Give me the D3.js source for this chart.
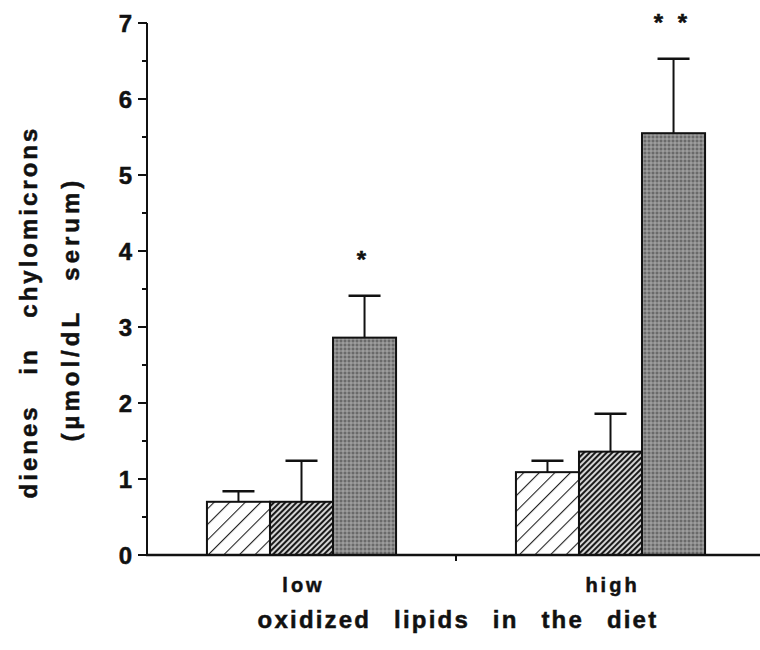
<!DOCTYPE html>
<html>
<head>
<meta charset="utf-8">
<script src="https://cdn.jsdelivr.net/npm/d3@7"></script>
<style>
  html, body { margin: 0; padding: 0; background: #fff; }
  svg { display: block; font-family: "Liberation Sans", Arial, Helvetica, sans-serif; }
  text { fill: #111; stroke: #111; stroke-width: 0.5px; }
</style>
</head>
<body>
<svg id="chart" width="760" height="650"></svg>
<script>
// ---- data ----
const categories = ["low", "high"];
const seriesNames = ["control", "mid", "oxidized"];
const meansControl = [0.70, 1.09];
const semControl   = [0.14, 0.15];
const meansMid     = [0.70, 1.36];
const semMid       = [0.54, 0.50];
const meansOx      = [2.86, 5.55];
const semOx        = [0.55, 0.98];
const significance = ["*", "* *"];
const yTicks = [0, 1, 2, 3, 4, 5, 6, 7];
const yMinorTicks = [0.5, 1.5, 2.5, 3.5, 4.5, 5.5, 6.5];
const xTitle = "oxidized lipids in the diet";
const yTitle1 = "dienes in chylomicrons";
const yTitle2 = "(\u00b5mol/dL serum)";

const rows = [];
categories.forEach((c, i) => {
  rows.push({cat: c, s: "control", v: meansControl[i], e: semControl[i]});
  rows.push({cat: c, s: "mid", v: meansMid[i], e: semMid[i]});
  rows.push({cat: c, s: "oxidized", v: meansOx[i], e: semOx[i]});
});

const svg = d3.select("#chart");

// ---- patterns ----
const defs = svg.append("defs");
const p1 = defs.append("pattern").attr("id", "hatchSparse")
  .attr("patternUnits", "userSpaceOnUse").attr("width", 11).attr("height", 11)
  .attr("patternTransform", "rotate(45)");
p1.append("rect").attr("width", 11).attr("height", 11).attr("fill", "#fff");
p1.append("line").attr("x1", 0).attr("y1", 0).attr("x2", 0).attr("y2", 11)
  .attr("stroke", "#222").attr("stroke-width", 2.2);

const p2 = defs.append("pattern").attr("id", "hatchDense")
  .attr("patternUnits", "userSpaceOnUse").attr("width", 4).attr("height", 4)
  .attr("patternTransform", "rotate(45)");
p2.append("rect").attr("width", 4).attr("height", 4).attr("fill", "#d8d8d8");
p2.append("line").attr("x1", 1).attr("y1", 0).attr("x2", 1).attr("y2", 4)
  .attr("stroke", "#1a1a1a").attr("stroke-width", 2.1);

const p3 = defs.append("pattern").attr("id", "stipple")
  .attr("patternUnits", "userSpaceOnUse").attr("width", 4).attr("height", 4);
p3.append("rect").attr("width", 4).attr("height", 4).attr("fill", "#8a8a8a");
p3.append("rect").attr("x", 0).attr("y", 0).attr("width", 2).attr("height", 2).attr("fill", "#6a6a6a");
p3.append("rect").attr("x", 2).attr("y", 2).attr("width", 2).attr("height", 2).attr("fill", "#9c9c9c");

const fills = {control: "url(#hatchSparse)", mid: "url(#hatchDense)", oxidized: "url(#stipple)"};

// ---- scales ----
const x0 = d3.scaleBand().domain(categories).range([147, 765])
  .paddingInner(0.388).paddingOuter(0.194);
const x1 = d3.scaleBand().domain(seriesNames).range([0, x0.bandwidth()]).padding(0);
const y = d3.scaleLinear().domain([0, 7]).range([555, 23]);

// ---- bars ----
const g = svg.append("g");
g.selectAll("rect.bar").data(rows).join("rect")
  .attr("class", "bar")
  .attr("x", d => x0(d.cat) + x1(d.s))
  .attr("y", d => y(d.v))
  .attr("width", x1.bandwidth())
  .attr("height", d => y(0) - y(d.v))
  .attr("fill", d => fills[d.s])
  .attr("stroke", "#111").attr("stroke-width", 2);

// ---- error bars ----
const capHalf = 16;
const eb = g.selectAll("g.err").data(rows).join("g").attr("class", "err");
eb.append("line")
  .attr("x1", d => x0(d.cat) + x1(d.s) + x1.bandwidth() / 2)
  .attr("x2", d => x0(d.cat) + x1(d.s) + x1.bandwidth() / 2)
  .attr("y1", d => y(d.v)).attr("y2", d => y(d.v + d.e))
  .attr("stroke", "#111").attr("stroke-width", 2);
eb.append("line")
  .attr("x1", d => x0(d.cat) + x1(d.s) + x1.bandwidth() / 2 - capHalf)
  .attr("x2", d => x0(d.cat) + x1(d.s) + x1.bandwidth() / 2 + capHalf)
  .attr("y1", d => y(d.v + d.e)).attr("y2", d => y(d.v + d.e))
  .attr("stroke", "#111").attr("stroke-width", 2.5);

// ---- significance stars ----
g.selectAll("text.sig").data(categories).join("text")
  .attr("class", "sig")
  .attr("x", (c) => x0(c) + x1("oxidized") + x1.bandwidth() / 2 - 3)
  .attr("y", (c, i) => y(meansOx[i] + semOx[i]) - 28)
  .attr("text-anchor", "middle")
  .attr("font-size", 24).attr("font-weight", "bold")
  .attr("word-spacing", 8)
  .attr("xml:space", "preserve")
  .text((c, i) => significance[i]);

// ---- y axis ----
const yAxis = svg.append("g").attr("transform", "translate(147,0)");
yAxis.append("line").attr("x1", 0).attr("x2", 0).attr("y1", y(0)).attr("y2", y(7))
  .attr("stroke", "#111").attr("stroke-width", 2);
yAxis.selectAll("line.major").data(yTicks).join("line").attr("class", "major")
  .attr("x1", -9).attr("x2", 0).attr("y1", d => y(d)).attr("y2", d => y(d))
  .attr("stroke", "#111").attr("stroke-width", 2);
yAxis.selectAll("line.minor").data(yMinorTicks).join("line").attr("class", "minor")
  .attr("x1", -5).attr("x2", 0).attr("y1", d => y(d)).attr("y2", d => y(d))
  .attr("stroke", "#111").attr("stroke-width", 2);
yAxis.selectAll("text").data(yTicks).join("text")
  .attr("x", -15).attr("y", d => y(d)).attr("dy", "0.36em")
  .attr("text-anchor", "end").attr("font-size", 24).attr("font-weight", "bold")
  .text(d => d);

// ---- x axis ----
const xAxis = svg.append("g");
xAxis.append("line").attr("x1", 146).attr("x2", 765).attr("y1", y(0)).attr("y2", y(0))
  .attr("stroke", "#111").attr("stroke-width", 2.5);
const midTick = (x0("low") + x0.bandwidth() + x0("high")) / 2;
xAxis.append("line").attr("x1", midTick).attr("x2", midTick)
  .attr("y1", y(0)).attr("y2", y(0) + 6).attr("stroke", "#111").attr("stroke-width", 2);
xAxis.selectAll("text").data(categories).join("text")
  .attr("x", d => x0(d) + x0.bandwidth() / 2 + 2)
  .attr("y", 592)
  .attr("text-anchor", "middle").attr("font-size", 20).attr("font-weight", "bold")
  .attr("letter-spacing", 3)
  .text(d => d);

// ---- titles ----
svg.append("text").attr("x", 458).attr("y", 628)
  .attr("text-anchor", "middle").attr("font-size", 24).attr("font-weight", "bold")
  .attr("letter-spacing", 2.2).attr("word-spacing", 14)
  .text(xTitle);
svg.append("text").attr("transform", "translate(37,312) rotate(-90)")
  .attr("text-anchor", "middle").attr("font-size", 24).attr("font-weight", "bold")
  .attr("letter-spacing", 3).attr("word-spacing", 20)
  .text(yTitle1);
svg.append("text").attr("transform", "translate(79,309) rotate(-90)")
  .attr("text-anchor", "middle").attr("font-size", 24).attr("font-weight", "bold")
  .attr("letter-spacing", 4).attr("word-spacing", 18)
  .text(yTitle2);
</script>
</body>
</html>
